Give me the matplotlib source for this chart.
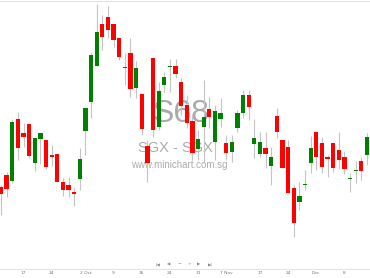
import matplotlib
matplotlib.use("Agg")
import matplotlib.pyplot as plt

# daily candles, S68 (SGX)
opens = [7.065, 7.125, 7.095, 7.405, 7.335, 7.38, 7.185, 7.305, 7.30, 7.225,
         7.23, 7.09, 7.075, 7.04, 7.105, 7.345, 7.49, 7.67, 7.88, 7.915,
         7.88, 7.81, 7.66, 7.735, 7.56, 7.53, 7.27, 7.71, 7.365, 7.575,
         7.665, 7.67, 7.59, 7.475, 7.395, 7.255, 7.365, 7.455, 7.29, 7.405,
         7.285, 7.24, 7.36, 7.435, 7.525, 7.28, 7.23, 7.26, 7.17, 7.42,
         7.30, 7.265, 7.06, 6.99, 7.075, 7.185, 7.34, 7.285, 7.215, 7.285,
         7.25, 7.215, 7.105, 7.145, 7.195, 7.225]
highs = [7.075, 7.14, 7.40, 7.44, 7.385, 7.38, 7.31, 7.335, 7.30, 7.275,
         7.23, 7.11, 7.115, 7.065, 7.26, 7.46, 7.74, 7.98, 7.925, 7.97,
         7.88, 7.81, 7.735, 7.81, 7.695, 7.53, 7.30, 7.71, 7.59, 7.64,
         7.705, 7.705, 7.61, 7.525, 7.425, 7.35, 7.60, 7.515, 7.475, 7.51,
         7.325, 7.325, 7.45, 7.55, 7.55, 7.405, 7.34, 7.34, 7.265, 7.46,
         7.30, 7.30, 7.075, 7.09, 7.15, 7.32, 7.34, 7.315, 7.225, 7.285,
         7.34, 7.245, 7.135, 7.195, 7.215, 7.335]
lows = [6.925, 7.015, 7.085, 7.20, 7.265, 7.21, 7.145, 7.18, 7.155, 7.17,
        7.09, 7.02, 7.015, 6.97, 7.05, 7.225, 7.41, 7.67, 7.75, 7.81,
        7.765, 7.70, 7.575, 7.515, 7.51, 7.325, 7.09, 7.315, 7.35, 7.54,
        7.54, 7.61, 7.425, 7.36, 7.20, 7.20, 7.185, 7.36, 7.20, 7.365,
        7.20, 7.19, 7.34, 7.41, 7.40, 7.21, 7.215, 7.16, 7.075, 7.31,
        7.16, 7.035, 6.815, 6.95, 7.05, 7.135, 7.15, 7.135, 7.115, 7.14,
        7.155, 7.13, 7.04, 7.085, 7.10, 7.175]
closes = [7.03, 7.055, 7.39, 7.26, 7.315, 7.22, 7.31, 7.335, 7.165, 7.215,
          7.09, 7.05, 7.05, 7.03, 7.205, 7.46, 7.725, 7.84, 7.815, 7.85,
          7.80, 7.715, 7.66, 7.555, 7.66, 7.355, 7.185, 7.35, 7.545, 7.615,
          7.665, 7.63, 7.47, 7.385, 7.235, 7.305, 7.415, 7.415, 7.445, 7.435,
          7.235, 7.29, 7.435, 7.525, 7.465, 7.31, 7.29, 7.23, 7.215, 7.34,
          7.16, 7.035, 6.885, 7.02, 7.075, 7.26, 7.215, 7.165, 7.205, 7.16,
          7.20, 7.155, 7.105, 7.145, 7.145, 7.315]

tick_pos = [4, 9, 15, 20, 25, 30, 35, 40, 46, 51, 56, 61]
tick_labels = ["17", "24", "2 Oct", "9", "16", "24", "31", "7 Nov", "17", "24", "Dec", "8"]

W, H = 370, 278
fig = plt.figure(figsize=(W / 100, H / 100), dpi=100)
ax = fig.add_axes([0, 9 / H, 1, 268 / H])

x = list(range(len(opens)))
ax.vlines(x, lows, highs, color="#c4c4c4", lw=0.8, zorder=1)
for i in x:
    o, c = opens[i], closes[i]
    col = "#008000" if c >= o else "#ff0000"
    h = max(abs(c - o), 0.004)
    ax.bar(i, h, bottom=min(o, c), width=0.76, color=col, lw=0, zorder=2)

ax.set_xlim(-1 / 5.63, 369 / 5.63)
ax.set_ylim(8.0 - 269 / 200, 8.0 - 1 / 200)

ax.set_yticks([])
ax.set_xticks(tick_pos)
ax.set_xticklabels(tick_labels)
ax.tick_params(axis="x", length=0, pad=1.6, labelsize=3.2, labelcolor="#777777")
for s in ("left", "right"):
    ax.spines[s].set_visible(False)
ax.spines["bottom"].set_color("#dddddd")
ax.spines["top"].set_color("#dddddd")
ax.spines["bottom"].set_linewidth(0.6)
ax.spines["top"].set_linewidth(0.6)

# watermark, behind the candles
wm = dict(color="#ababab", ha="center", va="center",
          family="Liberation Sans", transform=fig.transFigure, zorder=0.5)
ax.text(181 / W, 1 - 114 / H, "S68", fontsize=23, **wm)
ax.text(175 / W, 1 - 147.5 / H, "SGX - SGX", fontsize=10.5, **wm)
ax.text(179 / W, 1 - 165.5 / H, "www.minichart.com.sg", fontsize=7, **wm)

# navigation buttons
for bx, b in zip([158, 169, 179, 189, 199, 210], ["|◀", "◀", "−", "+", "▶", "▶|"]):
    fig.text(bx / W, 1 - 264 / H, b, fontsize=3.2, color="#888888", ha="center", va="center")

fig.savefig("out.png", dpi=100)
